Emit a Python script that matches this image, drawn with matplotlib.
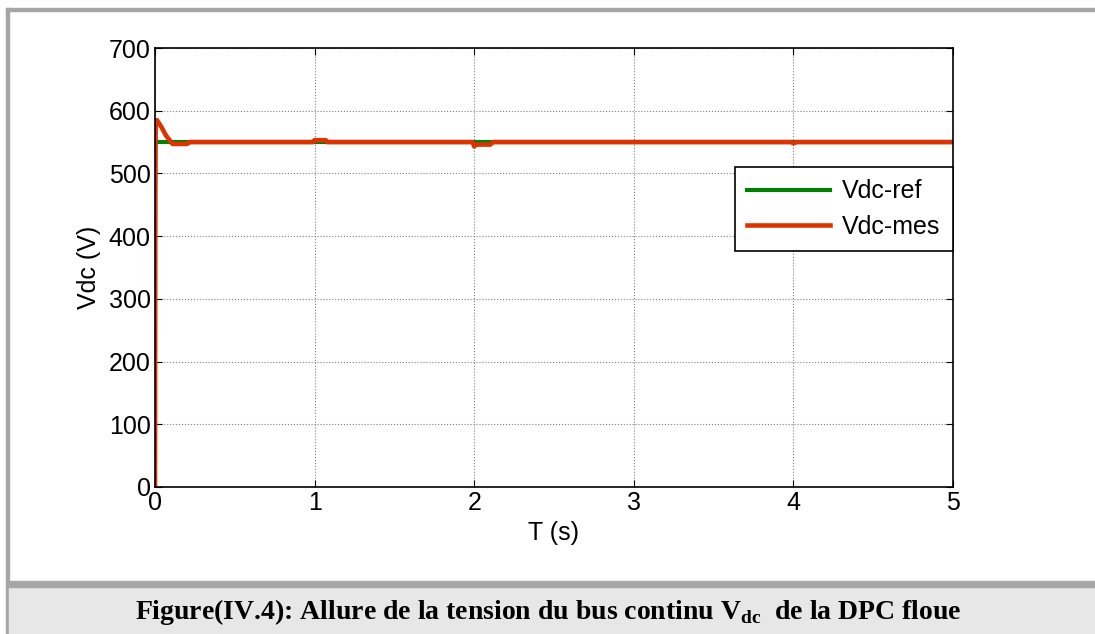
import matplotlib.pyplot as plt
import numpy as np
from matplotlib.patches import Rectangle

# reference bus voltage and measured response (time in s, voltage in V)
t_ref = [0.0, 5.0]
vdc_ref = [550, 550]

t_mes = [0.0, 0.002, 0.004, 0.012, 0.04, 0.07, 0.11, 0.2, 0.22, 0.99, 1.0, 1.07, 1.08,
         1.99, 2.0, 2.01, 2.1, 2.12, 3.99, 4.0, 4.02, 5.0]
vdc_mes = [0, 450, 580, 585, 574, 560, 547, 547, 550, 550, 553, 553, 550,
           550, 543, 546, 546, 550, 550, 548, 550, 550]

xticks = [0, 1, 2, 3, 4, 5]
yticks = [0, 100, 200, 300, 400, 500, 600, 700]

plt.rcParams['font.family'] = ['Liberation Sans', 'DejaVu Sans']

fig = plt.figure(figsize=(10.95, 6.34), dpi=100)
W, H = 1095, 634

# outer frame and caption band
fig.patches.append(Rectangle((6/W, 0), 3/W, 1 - 8/H, transform=fig.transFigure,
                             color='#a6a6a6', zorder=0))
fig.patches.append(Rectangle((6/W, 1 - 11/H), 1 - 6/W, 3/H, transform=fig.transFigure,
                             color='#a6a6a6', zorder=0))
fig.patches.append(Rectangle((9/W, 0), 1 - 9/W, (634 - 587)/H, transform=fig.transFigure,
                             color='#e7e7e7', zorder=0))
fig.patches.append(Rectangle((9/W, (634 - 587)/H), 1 - 9/W, 6/H, transform=fig.transFigure,
                             color='#a6a6a6', zorder=0))

ax = fig.add_axes([155/W, 1 - 487/H, (953 - 155)/W, (487 - 48)/H])
ax.plot(t_ref, vdc_ref, color='#008000', lw=3, label='Vdc-ref')
ax.plot(t_mes, vdc_mes, color='#dd3300', lw=3.3, label='Vdc-mes')

ax.set_xlim(0, 5)
ax.set_ylim(0, 700)
ax.set_xticks(xticks)
ax.set_yticks(yticks)
ax.tick_params(direction='in', top=True, right=True, labelsize=18, length=5, pad=3)
ax.grid(True, color='#808080', linestyle=':', linewidth=0.8)
for s in ax.spines.values():
    s.set_linewidth(1.2)

ax.set_xlabel('T (s)', fontsize=18, labelpad=4)
ax.set_ylabel('Vdc (V)', fontsize=18, labelpad=6)

leg = ax.legend(loc='upper right', bbox_to_anchor=(1.0, 0.729), borderaxespad=0,
                fontsize=18, fancybox=False, edgecolor='black', framealpha=1,
                handlelength=3.3, borderpad=0.5, labelspacing=0.45, handletextpad=0.5)
leg.get_frame().set_linewidth(1.2)

plt.rcParams['mathtext.fontset'] = 'custom'
plt.rcParams['mathtext.rm'] = 'Liberation Serif:bold'
fig.text(548/W, 1 - 612/H,
         r'Figure(IV.4): Allure de la tension du bus continu V$_{\mathrm{dc}}$  de la DPC floue',
         family='Liberation Serif', fontweight='bold', fontsize=20,
         ha='center', va='center')

fig.savefig('out.png', dpi=100)
